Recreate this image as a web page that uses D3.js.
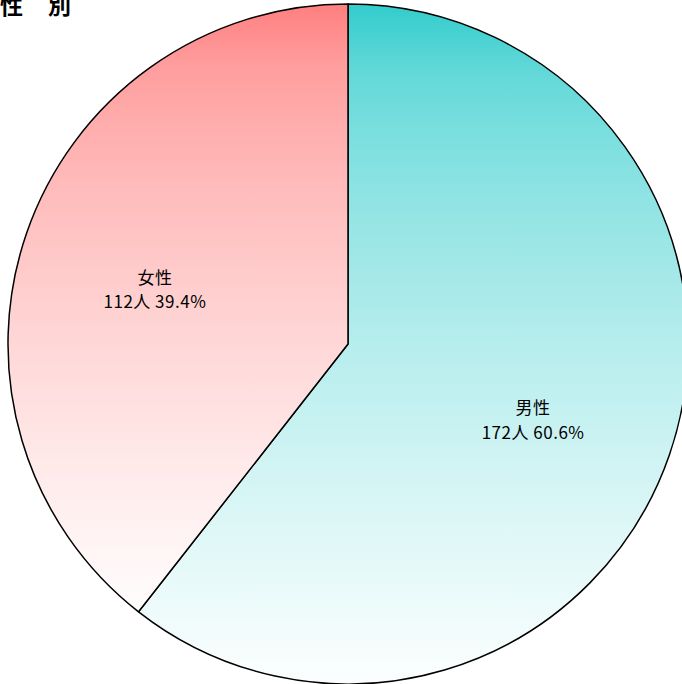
<!DOCTYPE html>
<html>
<head>
<meta charset="utf-8">
<script src="https://cdn.jsdelivr.net/npm/d3@7"></script>
<style>
  html, body { margin: 0; padding: 0; background: #fff; overflow: hidden; }
  svg { display: block; font-family: "Noto Sans CJK JP", "Noto Sans", sans-serif; }
</style>
</head>
<body>
<div id="chart"></div>
<script>
// data
var categories = ["男性", "女性"];
var counts = [172, 112];
var percents = ["60.6%", "39.4%"];
var topColors = ["#33cccc", "#ff7f7f"];
var title = "性　別";

function start(){
    var width = 682, height = 684;
    var cx = 348, cy = 344, radius = 340;

    var svg = d3.select("#chart").append("svg")
        .attr("width", width)
        .attr("height", height);

    // vertical fade to white, a bit faster than linear
    var defs = svg.append("defs");
    topColors.forEach(function(c, i){
        var g = defs.append("linearGradient")
            .attr("id", "grad" + i)
            .attr("x1", 0).attr("y1", 0)
            .attr("x2", 0).attr("y2", 1);
        var mix = d3.interpolateRgb(c, "#ffffff");
        d3.range(0, 11).forEach(function(k){
            var t = k / 10;
            g.append("stop")
                .attr("offset", (t * 100) + "%")
                .attr("stop-color", mix(Math.pow(t, 0.62) * 0.985));
        });
    });

    var data = categories.map(function(d, i){
        return {name: d, count: counts[i], pct: percents[i], idx: i};
    });

    var pie = d3.pie()
        .value(function(d){ return d.count; })
        .sort(null);

    var arc = d3.arc().innerRadius(0).outerRadius(radius);
    var labelArc = d3.arc().innerRadius(200).outerRadius(200);

    var g = svg.append("g").attr("transform", "translate(" + cx + "," + cy + ")");

    var slices = g.selectAll("g.slice")
        .data(pie(data))
        .enter()
        .append("g")
        .attr("class", "slice");

    slices.append("path")
        .attr("d", arc)
        .attr("fill", function(d){ return "url(#grad" + d.data.idx + ")"; })
        .attr("stroke", "#000")
        .attr("stroke-width", 1.5)
        .attr("stroke-linejoin", "round");

    var labels = slices.append("text")
        .attr("transform", function(d){
            var c = labelArc.centroid(d);
            return "translate(" + (c[0] - 4) + "," + (c[1] + 10) + ")";
        })
        .attr("text-anchor", "middle")
        .style("font-size", "17px")
        .style("letter-spacing", "0.5px")
        .style("fill", "#000");

    labels.append("tspan")
        .attr("x", 0)
        .attr("dy", "-0.3em")
        .text(function(d){ return d.data.name; });

    labels.append("tspan")
        .attr("x", 0)
        .attr("dy", "1.45em")
        .text(function(d){ return d.data.count + "人 " + d.data.pct; });

    svg.append("text")
        .attr("x", 0)
        .attr("y", 14)
        .style("font-size", "23px")
        .style("font-weight", "bold")
        .style("letter-spacing", "1px")
        .style("fill", "#000")
        .text(title);
}

start();
</script>
</body>
</html>
